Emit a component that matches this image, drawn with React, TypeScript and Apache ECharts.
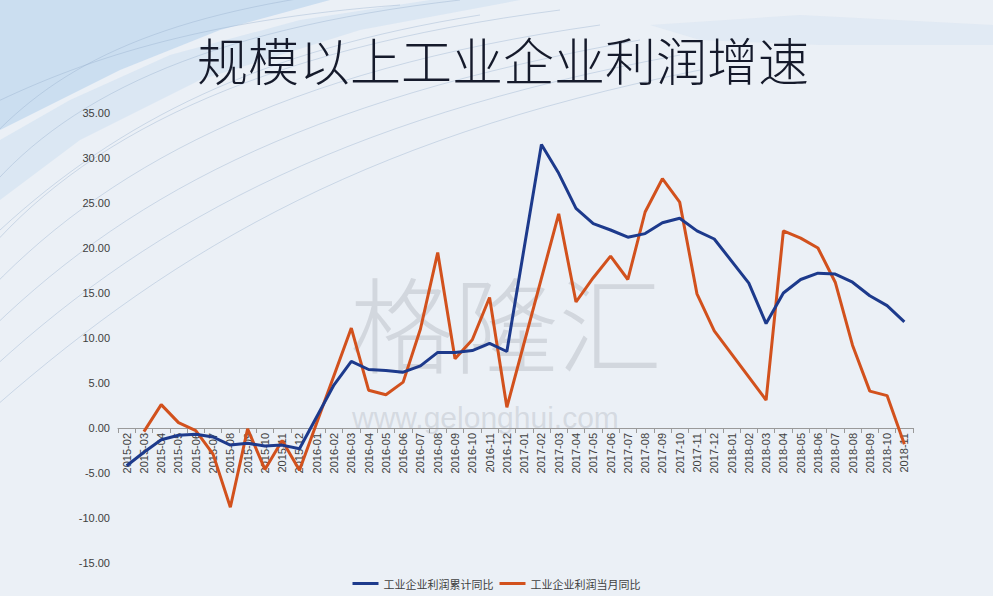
import React, { useEffect, useRef } from "react";
import * as echarts from "echarts";

const categories: string[] = [
  "2015-02", "2015-03", "2015-04", "2015-05", "2015-06", "2015-07", "2015-08", "2015-09", "2015-10", "2015-11", "2015-12",
  "2016-01", "2016-02", "2016-03", "2016-04", "2016-05", "2016-06", "2016-07", "2016-08", "2016-09", "2016-10", "2016-11", "2016-12",
  "2017-01", "2017-02", "2017-03", "2017-04", "2017-05", "2017-06", "2017-07", "2017-08", "2017-09", "2017-10", "2017-11", "2017-12",
  "2018-01", "2018-02", "2018-03", "2018-04", "2018-05", "2018-06", "2018-07", "2018-08", "2018-09", "2018-10", "2018-11",
];

const cumulativeYoY: (number | null)[] = [
  -4.2, -2.7, -1.3, -0.8, -0.7, -1.0, -1.9, -1.7, -2.0, -1.9, -2.3,
  null, 4.8, 7.4, 6.5, 6.4, 6.2, 6.9, 8.4, 8.4, 8.6, 9.4, 8.5,
  null, 31.5, 28.3, 24.4, 22.7, 22.0, 21.2, 21.6, 22.8, 23.3, 21.9, 21.0,
  null, 16.1, 11.6, 15.0, 16.5, 17.2, 17.1, 16.2, 14.7, 13.6, 11.8,
];

const monthlyYoY: (number | null)[] = [
  null, -0.4, 2.6, 0.6, -0.3, -2.9, -8.8, -0.1, -4.6, -1.4, -4.7,
  null, null, 11.1, 4.2, 3.7, 5.1, 11.0, 19.5, 7.7, 9.8, 14.5, 2.3,
  null, null, 23.8, 14.0, 16.7, 19.1, 16.5, 24.0, 27.7, 25.1, 14.9, 10.8,
  null, null, 3.1, 21.9, 21.1, 20.0, 16.2, 9.2, 4.1, 3.6, -1.8,
];

const seriesNames = ["工业企业利润累计同比", "工业企业利润当月同比"];
const titleText = "规模以上工业企业利润增速";

export default function App() {
  const ref = useRef<HTMLDivElement>(null);
  useEffect(() => {
    if (!ref.current) return;
    const chart = echarts.init(ref.current, undefined, { renderer: "svg" });
    const decoLines: any[] = [];
    const curves = [
      [[-20, 260], [80, 140], [250, 50], [560, 10]],
      [[-20, 300], [100, 170], [280, 70], [600, 25]],
      [[-20, 340], [120, 200], [300, 100], [640, 40]],
      [[-20, 380], [140, 230], [330, 120], [680, 55]],
      [[-20, 200], [60, 100], [200, 30], [460, 0]],
      [[-20, 150], [50, 70], [150, 15], [360, -10]],
      [[-20, 420], [160, 260], [350, 140], [700, 70]],
      [[-20, 110], [80, 60], [200, 20], [400, 5]],
      [[0, 230], [120, 120], [260, 50], [480, 15]],
    ];
    curves.forEach((c) => {
      decoLines.push({
        type: "bezierCurve",
        silent: true,
        z: -10,
        shape: { x1: c[0][0], y1: c[0][1], cpx1: c[1][0], cpy1: c[1][1], cpx2: c[2][0], cpy2: c[2][1], x2: c[3][0], y2: c[3][1] },
        style: { stroke: "rgba(150,175,205,0.4)", lineWidth: 1, fill: null },
      });
    });
    chart.setOption({
      animation: false,
      backgroundColor: "#ebf0f6",
      graphic: [
        {
          type: "polygon",
          silent: true,
          z: -20,
          shape: { points: [[0, 0], [330, 0], [220, 30], [120, 70], [40, 110], [0, 130]] },
          style: { fill: "rgba(190,213,238,0.7)" },
        },
        {
          type: "polygon",
          silent: true,
          z: -19,
          shape: { points: [[0, 140], [70, 100], [170, 55], [300, 20], [430, 0], [520, 0], [360, 30], [200, 80], [80, 140], [0, 200]] },
          style: { fill: "rgba(200,220,240,0.45)" },
        },
        {
          type: "polygon",
          silent: true,
          z: -19,
          shape: { points: [[650, 25], [800, 15], [993, 25], [993, 45], [820, 45], [700, 40]] },
          style: { fill: "rgba(215,228,242,0.5)" },
        },
        ...decoLines,
        {
          type: "text",
          silent: true,
          z: -5,
          left: 350,
          top: 268,
          style: { text: "格隆汇", font: "200 104px 'Noto Sans CJK SC'", fill: "rgba(185,190,198,0.5)" },
        },
        {
          type: "text",
          silent: true,
          z: -5,
          left: 352,
          top: 402,
          style: { text: "www.gelonghui.com", font: "30px 'Liberation Sans', Arial, sans-serif", fill: "rgba(185,190,198,0.45)" },
        },
        {
          type: "text",
          left: 197,
          top: 33,
          style: { text: titleText, font: "300 51px 'Noto Sans CJK SC'", fill: "#151a2b" },
        },
      ],
      grid: { left: 118, right: 80, top: 113, bottom: 33, containLabel: false },
      legend: {
        bottom: 2,
        left: "center",
        icon: "rect",
        itemWidth: 26,
        itemHeight: 3,
        itemGap: 6,
        textStyle: { fontSize: 11, color: "#404040", fontFamily: "'Noto Sans CJK SC'" },
        data: seriesNames,
      },
      xAxis: {
        type: "category",
        data: categories,
        boundaryGap: true,
        offset: -135,
        axisLine: { onZero: false, lineStyle: { color: "#9a9a9a", width: 1 } },
        axisTick: { show: true, length: 5, lineStyle: { color: "#9a9a9a" } },
        axisLabel: { rotate: 90, interval: 0, fontSize: 11, color: "#404040", margin: 5, fontFamily: "Arial, 'Liberation Sans'" },
        splitLine: { show: false },
      },
      yAxis: {
        type: "value",
        min: -15,
        max: 35,
        interval: 5,
        axisLine: { show: false },
        axisTick: { show: false },
        splitLine: { show: false },
        axisLabel: {
          fontSize: 11,
          color: "#404040",
          margin: 8,
          fontFamily: "Arial, 'Liberation Sans'",
          formatter: (v: number) => v.toFixed(2),
        },
      },
      series: [
        {
          name: seriesNames[0],
          type: "line",
          data: cumulativeYoY,
          connectNulls: true,
          showSymbol: false,
          symbol: "none",
          lineStyle: { color: "#1d3a8c", width: 3 },
          itemStyle: { color: "#1d3a8c" },
          z: 3,
        },
        {
          name: seriesNames[1],
          type: "line",
          data: monthlyYoY,
          connectNulls: true,
          showSymbol: false,
          symbol: "none",
          lineStyle: { color: "#d2511d", width: 3 },
          itemStyle: { color: "#d2511d" },
          z: 2,
        },
      ],
    });
    return () => chart.dispose();
  }, []);
  return <div ref={ref} style={{ position: "fixed", left: 0, top: 0, width: 993, height: 596 }} />;
}
